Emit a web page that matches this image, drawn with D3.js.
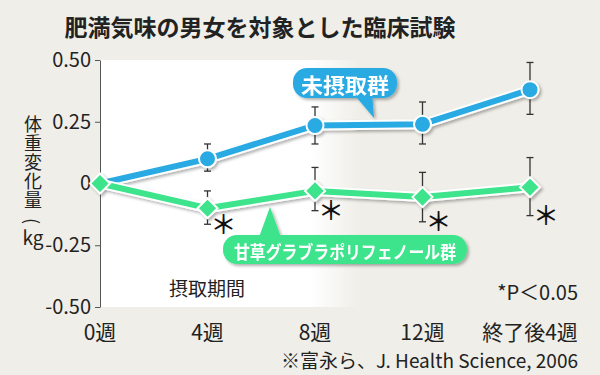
<!DOCTYPE html>
<html>
<head>
<meta charset="utf-8">
<script src="https://cdn.jsdelivr.net/npm/d3@7"></script>
<style>
  body { margin: 0; background: #efeee8; }
  svg { display: block; font-family: 'Noto Sans CJK JP', sans-serif; }
</style>
</head>
<body>
<div id="chart"></div>
<script>
const weeks = ['0週', '4週', '8週', '12週', '終了後4週']
const yTicks = [0.5, 0.25, 0, -0.25, -0.5]
const yTickLabels = ['0.50', '0.25', '0', '-0.25', '-0.50']

// 未摂取群
const controlMean = [0, 0.10, 0.235, 0.24, 0.38]
const controlHi = [null, 0.16, 0.31, 0.33, 0.49]
const controlLo = [null, 0.05, 0.16, 0.16, 0.28]

// 甘草グラブラポリフェノール群
const glabraMean = [0, -0.10, -0.03, -0.055, -0.015]
const glabraHi = [null, -0.03, 0.065, 0.045, 0.105]
const glabraLo = [null, -0.165, -0.11, -0.155, -0.13]
const glabraSig = [false, true, true, true, true]

const BLUE = '#2aaae2'
const GREEN = '#3de48c'
const BG = '#efeee8'

const width = 600
const height = 375

const svg = d3.select('#chart').append('svg')
  .attr('width', width)
  .attr('height', height)

const defs = svg.append('defs')
const grad = defs.append('linearGradient').attr('id', 'plotbg')
grad.append('stop').attr('offset', '0%').attr('stop-color', '#fff')
grad.append('stop').attr('offset', '42%').attr('stop-color', '#fff')
grad.append('stop').attr('offset', '52%').attr('stop-color', BG)

defs.append('filter').attr('id', 'shadow')
  .attr('x', '-10%').attr('y', '-30%').attr('width', '130%').attr('height', '170%')
  .append('feDropShadow')
  .attr('dx', 2).attr('dy', 2).attr('stdDeviation', 1.5)
  .attr('flood-color', '#000').attr('flood-opacity', 0.3)

svg.append('rect').attr('width', width).attr('height', height).attr('fill', BG)

const x = d3.scalePoint().domain(weeks).range([100, 530])
const y = d3.scaleLinear().domain([-0.5, 0.5]).range([307, 60])

// plot background
svg.append('rect')
  .attr('x', x(weeks[0])).attr('y', y(0.5))
  .attr('width', 500).attr('height', y(-0.5) - y(0.5))
  .attr('fill', 'url(#plotbg)')

// title
svg.append('text')
  .attr('x', 260).attr('y', 36)
  .attr('text-anchor', 'middle')
  .attr('font-size', 23).attr('font-weight', 700)
  .attr('fill', '#222')
  .text('肥満気味の男女を対象とした臨床試験')

// y axis
const yAxis = svg.append('g')
  .attr('transform', `translate(${x(weeks[0])},0)`)
  .call(d3.axisLeft(y).tickValues(yTicks)
    .tickFormat((d, i) => yTickLabels[i]).tickSize(5).tickSizeOuter(0).tickPadding(4))
yAxis.select('.domain').attr('stroke', '#555')
yAxis.selectAll('.tick line').attr('stroke', '#555')
yAxis.selectAll('.tick text')
  .attr('font-size', 20).attr('fill', '#222')
  .attr('font-family', "'Noto Sans CJK JP', sans-serif")

// y label, written vertically
const yl = svg.append('g').attr('fill', '#222')
yl.append('text')
  .attr('x', 33).attr('y', 115)
  .style('writing-mode', 'vertical-rl')
  .style('text-orientation', 'upright')
  .attr('font-size', 18).attr('letter-spacing', 1)
  .text('体重変化量')
yl.append('text')
  .attr('transform', 'translate(33,221) rotate(90)')
  .attr('text-anchor', 'middle').attr('dominant-baseline', 'central')
  .attr('font-size', 18)
  .text('(')
yl.append('text')
  .attr('x', 33).attr('y', 245)
  .attr('text-anchor', 'middle').attr('font-size', 19)
  .text('kg')

// x labels
svg.append('g').selectAll('text').data(weeks).join('text')
  .attr('x', d => x(d)).attr('y', 340)
  .attr('text-anchor', 'middle').attr('font-size', 21).attr('fill', '#222')
  .text(d => d)

svg.append('text')
  .attr('x', 169).attr('y', 296)
  .attr('font-size', 19).attr('fill', '#222')
  .text('摂取期間')

svg.append('text')
  .attr('x', 578).attr('y', 300)
  .attr('text-anchor', 'end').attr('font-size', 20).attr('fill', '#222')
  .text('*P＜0.05')

svg.append('text')
  .attr('x', 578).attr('y', 368)
  .attr('text-anchor', 'end').attr('font-size', 19).attr('fill', '#222')
  .text('※富永ら、J. Health Science, 2006')

// error bars
function drawErrors (hi, lo) {
  const rows = weeks.map((w, i) => ({ w, hi: hi[i], lo: lo[i] })).filter(d => d.hi !== null)
  const g = svg.append('g').attr('stroke', '#333').attr('stroke-width', 1.3)
  g.selectAll('.v').data(rows).join('line')
    .attr('x1', d => x(d.w)).attr('x2', d => x(d.w))
    .attr('y1', d => y(d.hi)).attr('y2', d => y(d.lo))
  g.selectAll('.ct').data(rows).join('line')
    .attr('x1', d => x(d.w) - 3.5).attr('x2', d => x(d.w) + 3.5)
    .attr('y1', d => y(d.hi)).attr('y2', d => y(d.hi))
  g.selectAll('.cb').data(rows).join('line')
    .attr('x1', d => x(d.w) - 3.5).attr('x2', d => x(d.w) + 3.5)
    .attr('y1', d => y(d.lo)).attr('y2', d => y(d.lo))
}
drawErrors(controlHi, controlLo)
drawErrors(glabraHi, glabraLo)

const line = d3.line().x((d, i) => x(weeks[i])).y(d => y(d))

function drawSeries (values, color) {
  const g = svg.append('g').attr('filter', 'url(#shadow)')
  g.append('path').datum(values)
    .attr('d', line).attr('fill', 'none')
    .attr('stroke', '#fff').attr('stroke-width', 10).attr('stroke-linejoin', 'round')
  g.append('path').datum(values)
    .attr('d', line).attr('fill', 'none')
    .attr('stroke', color).attr('stroke-width', 6).attr('stroke-linejoin', 'round')
  return g
}

const gBlue = drawSeries(controlMean, BLUE)
gBlue.selectAll('circle').data(controlMean.slice(1)).join('circle')
  .attr('cx', (d, i) => x(weeks[i + 1])).attr('cy', d => y(d))
  .attr('r', 8.5).attr('fill', BLUE).attr('stroke', '#fff').attr('stroke-width', 2)

const gGreen = drawSeries(glabraMean, GREEN)
gGreen.selectAll('path.dia').data(glabraMean).join('path')
  .attr('class', 'dia')
  .attr('transform', (d, i) => `translate(${x(weeks[i])},${y(d)})`)
  .attr('d', 'M0,-10L10,0L0,10L-10,0Z')
  .attr('fill', GREEN).attr('stroke', '#fff').attr('stroke-width', 2)

// significance marks
svg.append('g').selectAll('text')
  .data(weeks.map((w, i) => ({ w, lo: glabraLo[i], sig: glabraSig[i] })).filter(d => d.sig))
  .join('text')
  .attr('x', d => x(d.w) + 16).attr('y', d => y(d.lo) - 2)
  .attr('text-anchor', 'middle').attr('dominant-baseline', 'central')
  .attr('font-size', 26).attr('font-weight', 500).attr('fill', '#111')
  .text('＊')

// callouts
function callout (bx, by, bw, bh, tail, color, label, fs, tl) {
  const g = svg.append('g').attr('filter', 'url(#shadow)')
  g.append('path').attr('d', d3.line()(tail)).attr('fill', color)
  g.append('rect')
    .attr('x', bx).attr('y', by).attr('width', bw).attr('height', bh)
    .attr('rx', 14).attr('fill', color)
  g.append('text')
    .attr('x', bx + bw / 2).attr('y', by + bh / 2 + 1)
    .attr('text-anchor', 'middle').attr('dominant-baseline', 'central')
    .attr('font-size', fs).attr('font-weight', 700).attr('fill', '#fff')
    .attr('textLength', tl).attr('lengthAdjust', 'spacingAndGlyphs')
    .text(label)
}
callout(293, 68, 104, 30, [[352, 92], [374, 118], [372, 92]], BLUE, '未摂取群', 21, 88)
callout(223, 235, 244, 29, [[258, 240], [270, 207], [282, 240]], GREEN, '甘草グラブラポリフェノール群', 18, 222)
</script>
</body>
</html>
